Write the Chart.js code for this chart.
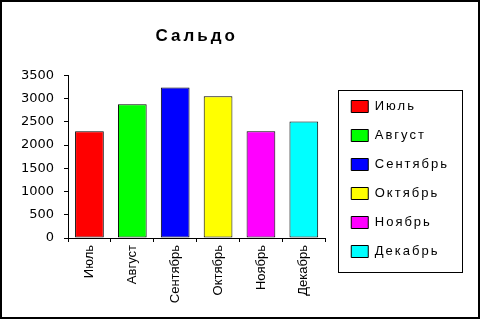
<!DOCTYPE html>
<html>
<head>
<meta charset="utf-8">
<script src="https://cdn.jsdelivr.net/npm/chart.js@4/dist/chart.umd.min.js"></script>
<style>
  html, body { margin: 0; padding: 0; background: #fff; }
  canvas { display: block; }
</style>
</head>
<body>
<canvas id="saldo-chart" width="480" height="319"></canvas>
<script>
const months = ["Июль", "Август", "Сентябрь", "Октябрь", "Ноябрь", "Декабрь"];
const saldo = [2300, 2880, 3240, 3050, 2300, 2510];
const barColors = ["#ff0000", "#00ff00", "#0000ff", "#ffff00", "#ff00ff", "#00ffff"];
const yMin = 0;
const yMax = 3500;
const yStep = 500;

const FONT = "'Liberation Sans', Arial, sans-serif";
const WIDE_FONT = "'DejaVu Sans', sans-serif";

// wrap a draw method so it runs with its own letter spacing
// (font is touched so the browser re-resolves it with the new spacing)
function spaced(obj, fn, spacing) {
  if (!obj || obj[fn]._spaced) return;
  const orig = obj[fn];
  const wrapped = function (...args) {
    const c = this.ctx;
    const old = c.letterSpacing;
    c.letterSpacing = spacing;
    c.font = "1px serif";
    const r = orig.apply(this, args);
    c.letterSpacing = old;
    c.font = "1px serif";
    return r;
  };
  wrapped._spaced = true;
  obj[fn] = wrapped;
}

const spacingPlugin = {
  id: "spacing",
  afterLayout(chart) {
    // legend box sits a little off the plot area, below the title
    const lg = chart.legend;
    const dx = chart.chartArea.right + 10 - lg.left;
    const dy = 84;
    lg.left += dx; lg.right += dx + 15; lg.width += 15;
    lg.top += dy; lg.bottom += dy;
  },
  beforeDraw(chart) {
    spaced(chart.titleBlock, "draw", "3px");
    spaced(chart.legend, "draw", "2px");
  },
  afterDraw(chart) {
    const ctx = chart.ctx;
    ctx.save();
    ctx.strokeStyle = "#000";
    ctx.lineWidth = 1;
    const hb = chart.legend.legendHitBoxes;
    if (hb && hb.length) {
      const first = hb[0];
      const last = hb[hb.length - 1];
      ctx.strokeRect(Math.round(first.left) - 12.5, Math.round(first.top) - 9.5, 124, last.top + last.height - first.top + 24);
    }
    ctx.lineWidth = 2;
    ctx.strokeRect(1, 1, chart.width - 2, chart.height - 2);
    ctx.restore();
  },
};

new Chart(document.getElementById("saldo-chart"), {
  type: "bar",
  data: {
    labels: months,
    datasets: [
      {
        label: "Сальдо",
        data: saldo,
        backgroundColor: barColors,
        borderColor: "#000",
        borderWidth: 1,
        borderSkipped: false,
        barPercentage: 0.67,
        categoryPercentage: 1,
      },
    ],
  },
  options: {
    responsive: false,
    animation: false,
    devicePixelRatio: 1,
    layout: { padding: { top: 0, right: 47, bottom: 0, left: 0 } },
    plugins: {
      title: {
        display: true,
        text: "Сальдо",
        fullSize: false,
        color: "#000",
        font: { family: FONT, size: 17, weight: "bold" },
        padding: { top: 26, bottom: 29 },
      },
      legend: {
        position: "right",
        align: "start",
        labels: {
          color: "#000",
          font: { family: FONT, size: 13 },
          boxWidth: 17,
          boxHeight: 12,
          padding: 16,
          generateLabels: (chart) =>
            chart.data.labels.map((text, i) => ({
              text,
              fillStyle: barColors[i],
              strokeStyle: "#000",
              lineWidth: 1,
              hidden: false,
              index: i,
            })),
        },
      },
      tooltip: { enabled: false },
    },
    scales: {
      x: {
        grid: { drawOnChartArea: false, tickLength: 4, tickColor: "#000" },
        border: { color: "#000", width: 1 },
        ticks: {
          color: "#000",
          font: { family: FONT, size: 13 },
          minRotation: 90,
          maxRotation: 90,
          autoSkip: false,
          padding: 3,
        },
        afterFit(s) { s.height = 81; },
      },
      y: {
        min: yMin,
        max: yMax,
        grid: { drawOnChartArea: false, tickLength: 4, tickColor: "#000" },
        border: { color: "#000", width: 1 },
        ticks: {
          stepSize: yStep,
          color: "#000",
          font: { family: WIDE_FONT, size: 13 },
          padding: 10,
          callback: (v) => String(v),
        },
        afterFit(s) { s.width = 68; },
      },
    },
  },
  plugins: [spacingPlugin],
});
</script>
</body>
</html>
